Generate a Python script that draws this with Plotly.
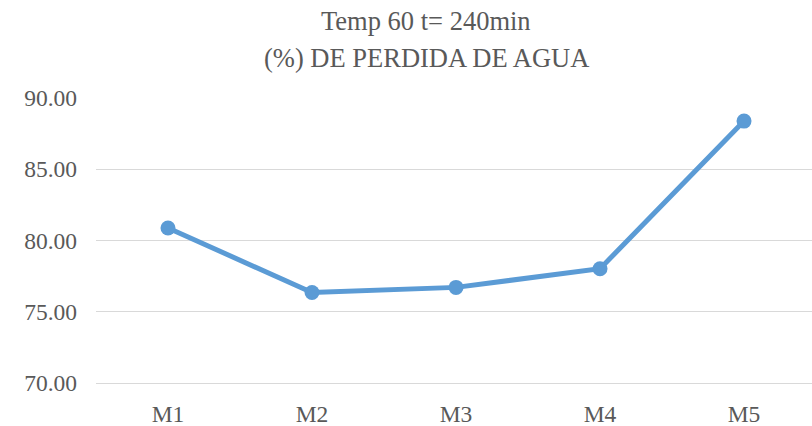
import plotly.graph_objects as go

categories = ["M1", "M2", "M3", "M4", "M5"]
values = [80.88, 76.35, 76.71, 78.02, 88.38]
y_ticks = [70, 75, 80, 85, 90]
y_tick_labels = ["70.00", "75.00", "80.00", "85.00", "90.00"]
title_lines = ["Temp 60 t= 240min", "(%) DE PERDIDA DE AGUA"]

fig = go.Figure()
fig.add_trace(go.Scatter(
    x=list(range(len(categories))), y=values, mode="lines+markers",
    line=dict(color="#5b9bd5", width=5),
    marker=dict(color="#5b9bd5", size=15),
    showlegend=False, hoverinfo="skip",
))

fig.update_layout(
    width=812, height=426,
    margin=dict(l=96, r=0, t=98, b=43),
    paper_bgcolor="white", plot_bgcolor="white",
    font=dict(family="Liberation Serif, Times New Roman, serif", color="#595959"),
)
# title lines placed individually (paper y: plot area spans 98..383 px)
for txt, py in zip(title_lines, [21.0, 58.0]):
    fig.add_annotation(
        text=txt, xref="paper", yref="paper",
        x=(426 - 96) / 716, y=(383 - py) / 285,
        xanchor="center", yanchor="middle", showarrow=False,
        font=dict(size=26.5, color="#595959"),
    )
fig.update_xaxes(
    tickmode="array", tickvals=list(range(len(categories))), ticktext=categories,
    range=[-0.5, 4.472], showgrid=False, zeroline=False,
    showline=True, linecolor="#d9d9d9", linewidth=1.3,
    ticks="", tickfont=dict(size=23.5, color="#595959"), ticklabelstandoff=10,
)
fig.update_yaxes(
    tickmode="array", tickvals=y_ticks, ticktext=y_tick_labels,
    range=[70, 90], showgrid=True, gridcolor="#d9d9d9", gridwidth=1.3,
    zeroline=False, showline=False, ticks="",
    tickfont=dict(size=23.5, color="#595959"), ticklabelstandoff=18,
)

fig.write_html("out.html", config={"displayModeBar": False},
               post_script="document.body.style.margin='0';")
